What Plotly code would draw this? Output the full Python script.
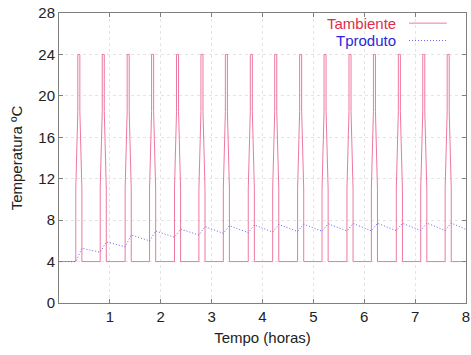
import plotly.graph_objects as go

# ---- data ----
# door-open pulses (hours): base start / base end
pulse_start = [0.33, 0.81, 1.30, 1.78, 2.27, 2.75, 3.23, 3.72, 4.20, 4.69, 5.17, 5.66, 6.14, 6.63, 7.11, 7.59]
pulse_end   = [0.45, 0.93, 1.42, 1.90, 2.39, 2.87, 3.35, 3.84, 4.32, 4.81, 5.29, 5.78, 6.26, 6.75, 7.23, 7.71]
ramp = 0.04            # time to narrow from the shoulder to the top (h)
t_base, t_shoulder, t_knee, t_top = 4, 11, 18.5, 24   # ambient levels (°C)

# product temperature: value at pulse start (trough) and after pulse (peak)
prod_trough = [4.0, 4.9, 5.43, 6.0, 6.34, 6.56, 6.73, 6.8, 6.85, 6.9, 6.93, 6.95, 6.97, 6.98, 7.0, 7.0]
prod_peak   = [5.28, 5.9, 6.56, 6.95, 7.14, 7.37, 7.46, 7.53, 7.58, 7.62, 7.65, 7.68, 7.7, 7.7, 7.72, 7.72]
t_end, prod_end = 8.0, 7.1

x_ticks = [1, 2, 3, 4, 5, 6, 7, 8]
y_ticks = [0, 4, 8, 12, 16, 20, 24, 28]

# ---- build series ----
amb_x, amb_y = [0.0], [t_base]
for a, b in zip(pulse_start, pulse_end):
    amb_x += [a, a, a + ramp, a + ramp, b - ramp, b - ramp, b, b]
    amb_y += [t_base, t_shoulder, t_knee, t_top, t_top, t_knee, t_shoulder, t_base]
amb_x.append(t_end)
amb_y.append(t_base)

prod_x, prod_y = [0.0], [4.0]
for a, b, lo, hi in zip(pulse_start, pulse_end, prod_trough, prod_peak):
    prod_x += [a, b]
    prod_y += [lo, hi]
prod_x.append(t_end)
prod_y.append(prod_end)

red_line = "rgb(238,120,160)"
blue_line = "rgb(100,100,235)"
font = "Liberation Sans, Arial, Helvetica, sans-serif"
txt = "#222"

fig = go.Figure()
fig.add_trace(go.Scatter(x=amb_x, y=amb_y, mode="lines", name="Tambiente",
                         line=dict(color=red_line, width=1), showlegend=False))
fig.add_trace(go.Scatter(x=prod_x, y=prod_y, mode="lines", name="Tproduto",
                         line=dict(color=blue_line, width=1, dash="1px,2px"), showlegend=False))

axis_common = dict(showline=True, linecolor="#808080", linewidth=1, mirror="allticks",
                   ticks="inside", ticklen=4, tickcolor="#808080", automargin=False,
                   showgrid=True, gridcolor="#e4e4e4", griddash="dot", gridwidth=1,
                   zeroline=False, tickfont=dict(size=15, color=txt))
fig.update_xaxes(range=[0, 8], tickvals=x_ticks, ticktext=[str(v) for v in x_ticks],
                 title=dict(text="Tempo (horas)", font=dict(size=15, color=txt), standoff=8),
                 **axis_common)
fig.update_yaxes(range=[0, 28], tickvals=y_ticks, ticktext=[str(v) for v in y_ticks],
                 title=dict(text="Temperatura ºC", font=dict(size=15, color=txt), standoff=12),
                 **axis_common)

# gnuplot-style key: text right-aligned, sample line to the right
for i, (label, tcol, lcol, dash) in enumerate([
        ("Tambiente", "rgb(225,45,75)", red_line, "solid"),
        ("Tproduto", "rgb(40,40,220)", blue_line, "1px,2px")]):
    yk = 0.965 - i * 0.06
    fig.add_annotation(x=0.833, y=yk, xref="paper", yref="paper", text=label,
                       showarrow=False, xanchor="right", yanchor="middle",
                       font=dict(size=15, color=tcol, family=font))
    fig.add_shape(type="line", xref="paper", yref="paper", x0=0.86, x1=0.953, y0=yk, y1=yk,
                  line=dict(color=lcol, width=1, dash=dash))

fig.update_layout(width=471, height=355, margin=dict(l=59, r=5, t=13, b=52),
                  plot_bgcolor="white", paper_bgcolor="white",
                  font=dict(family=font, size=15, color=txt))

fig.write_html("out.html", config={"displayModeBar": False},
               post_script="document.body.style.margin='0';document.body.style.overflow='hidden';")
